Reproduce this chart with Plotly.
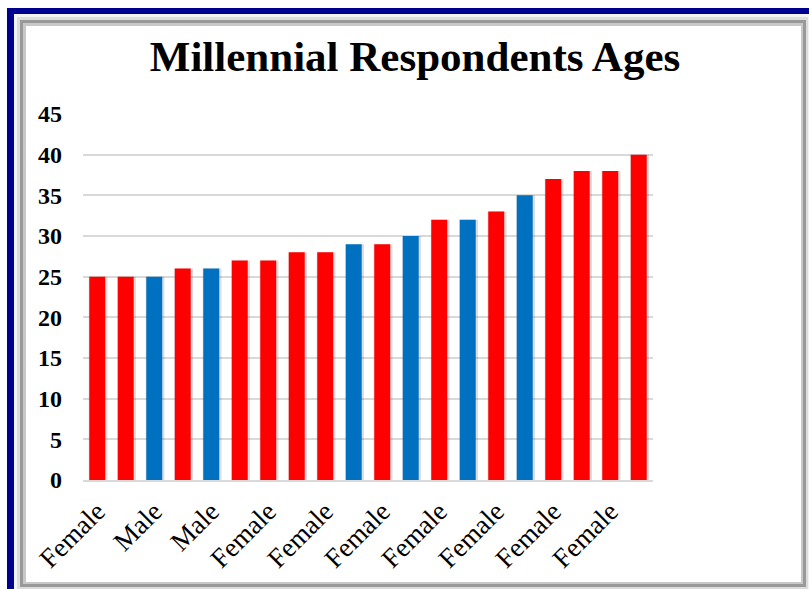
import plotly.graph_objects as go

# Respondent ages, sorted ascending, with each respondent's sex
ages = [25, 25, 25, 26, 26, 27, 27, 28, 28, 29, 29, 30, 32, 32, 33, 35, 37, 38, 38, 40]
sexes = ["Female", "Female", "Male", "Female", "Male", "Female", "Female", "Female",
         "Female", "Male", "Female", "Male", "Female", "Male", "Female", "Male",
         "Female", "Female", "Female", "Female"]
y_ticks = [0, 5, 10, 15, 20, 25, 30, 35, 40, 45]

COLORS = {"Female": "#FF0000", "Male": "#0070C0"}

W, H = 809, 589
L, R, T, B = 83, 156, 114, 109
PW, PH = W - L - R, H - T - B

positions = list(range(len(ages)))
bar_colors = [COLORS[s] for s in sexes]

fig = go.Figure()

# soft drop shadow behind each bar
fig.add_trace(go.Bar(
    x=positions, y=ages, width=0.66, offset=-0.30,
    marker=dict(color="rgba(0,0,0,0.13)", line=dict(width=0)),
    hoverinfo="skip", showlegend=False,
))
fig.add_trace(go.Bar(
    x=positions, y=ages, width=0.56, offset=-0.28,
    marker=dict(color=bar_colors, line=dict(width=0)),
    showlegend=False,
))


def px(x):
    return (x - L) / PW


def py(y):
    return 1 - (y - T) / PH


shapes = [
    # dark blue outer border (top and left edges visible)
    dict(type="rect", xref="paper", yref="paper", layer="below",
         x0=px(7), x1=px(830), y0=py(8), y1=py(620),
         fillcolor="#000090", line=dict(width=0)),
    dict(type="rect", xref="paper", yref="paper", layer="below",
         x0=px(14), x1=px(830), y0=py(14), y1=py(620),
         fillcolor="#f2f2f2", line=dict(width=0)),
    # bevelled gray inner frame
    dict(type="rect", xref="paper", yref="paper", layer="below",
         x0=px(17), x1=px(808), y0=py(17), y1=py(589),
         fillcolor="#dcdcdc", line=dict(width=0)),
    dict(type="rect", xref="paper", yref="paper", layer="below",
         x0=px(20), x1=px(806), y0=py(20), y1=py(587),
         fillcolor="#999999", line=dict(width=0)),
    dict(type="rect", xref="paper", yref="paper", layer="below",
         x0=px(23), x1=px(803), y0=py(23), y1=py(584),
         fillcolor="#c8c8c8", line=dict(width=0)),
    dict(type="rect", xref="paper", yref="paper", layer="below",
         x0=px(26), x1=px(801), y0=py(26), y1=py(582),
         fillcolor="#ffffff", line=dict(width=0)),
]

fig.update_layout(
    width=W, height=H,
    margin=dict(l=L, r=R, t=T, b=B),
    paper_bgcolor="white",
    plot_bgcolor="rgba(0,0,0,0)",
    barmode="overlay",
    shapes=shapes,
    title=dict(
        text="<b>Millennial Respondents Ages</b>",
        font=dict(family="Liberation Serif", size=43, color="black"),
        x=415 / W, xanchor="center", xref="container",
        y=1 - 56 / H, yanchor="middle", yref="container",
    ),
    font=dict(family="Liberation Serif", color="black"),
    xaxis=dict(
        range=[-0.5, len(ages) - 0.5],
        tickmode="array",
        tickvals=positions[::2],
        ticktext=sexes[::2],
        tickangle=-45,
        tickfont=dict(family="Liberation Serif", size=27, color="black"),
        ticks="", ticklabelstandoff=3,
        showgrid=False, zeroline=False,
        showline=True, linecolor="#d9d9d9", linewidth=1.5,
        fixedrange=True,
    ),
    yaxis=dict(
        range=[0, 45],
        tickmode="array",
        tickvals=y_ticks,
        ticktext=[f"<b>{v}</b>" for v in y_ticks],
        tickfont=dict(family="Liberation Serif", size=24, color="black"),
        ticks="", ticklabelstandoff=20,
        showgrid=True, gridcolor="#d9d9d9", gridwidth=1.5,
        zeroline=False, showline=False,
        fixedrange=True,
    ),
)

fig.write_html("out.html")
